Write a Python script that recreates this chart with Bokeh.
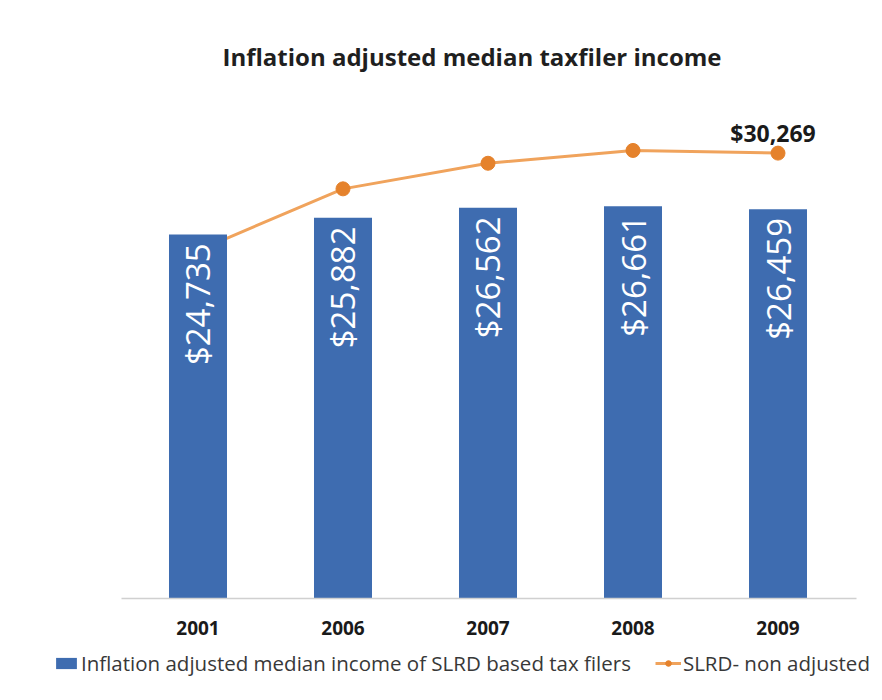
import math
from bokeh.plotting import figure
from bokeh.models import ColumnDataSource, Legend, LegendItem, Range1d, FixedTicker
from bokeh.core.properties import value
from bokeh.embed import file_html
from bokeh.resources import INLINE

years = ["2001", "2006", "2007", "2008", "2009"]
adjusted = [24735, 25882, 26562, 26661, 26459]
non_adjusted = [23650, 27840, 29580, 30450, 30269]
adjusted_labels = ["$24,735", "$25,882", "$26,562", "$26,661", "$26,459"]
last_label = "$30,269"

BAR = "#3E6CB0"
LINE = "#F0A35C"
MARK = "#E5822C"

pos = list(range(len(years)))

p = figure(x_range=Range1d(-1.0862, 4.6931), y_range=Range1d(-6796, 35000),
           width=880, height=698,
           min_border_left=40, min_border_right=2, min_border_top=83, min_border_bottom=0,
           output_backend="svg", toolbar_location=None,
           title="Inflation adjusted median taxfiler income")

p.title.align = "left"
p.title.offset = 182
p.title.text_font = "Open Sans"
p.title.text_font_style = "bold"
p.title.text_font_size = "24px"
p.title.text_color = "#1F1F1F"
p.title.standoff = 21

src = ColumnDataSource(dict(x=pos, adj=adjusted, non=non_adjusted, lab=adjusted_labels,
                            ly=[v - 600 for v in adjusted]))

line_r = p.line(x="x", y="non", source=src, line_color=LINE, line_width=3)
mark_r = p.scatter(x="x", y="non", source=src, size=14, fill_color=MARK, line_color=MARK)
bar_r = p.vbar(x="x", top="adj", width=0.4, source=src, fill_color=BAR, line_color=None)

p.text(x="x", y="ly", text="lab", source=src, angle=math.pi / 2,
       text_align="right", text_baseline="middle", text_color="white",
       text_font=value("Open Sans"), text_font_size="33px")

last = ColumnDataSource(dict(x=[pos[-1]], y=[non_adjusted[-1]], t=[last_label]))
p.text(x="x", y="y", text="t", source=last, text_align="center", text_baseline="alphabetic",
       x_offset=-5, y_offset=-20, text_color="#1A1A1A", text_font=value("Open Sans"),
       text_font_style="bold", text_font_size="23px")

p.yaxis.visible = False
p.xgrid.visible = False
p.ygrid.visible = False
p.outline_line_color = None

xa = p.xaxis[0]
xa.fixed_location = 0
xa.bounds = (-0.53, 4.54)
xa.ticker = FixedTicker(ticks=pos)
xa.major_label_overrides = {i: y for i, y in zip(pos, years)}
xa.axis_line_color = "#D0D0D0"
xa.axis_line_width = 1.5
xa.major_tick_line_color = None
xa.minor_tick_line_color = None
xa.major_label_text_font = "Open Sans"
xa.major_label_text_font_style = "bold"
xa.major_label_text_font_size = "19px"
xa.major_label_text_color = "#1A1A1A"
xa.major_label_standoff = 16

legend = Legend(items=[
    LegendItem(label="Inflation adjusted median income of SLRD based tax filers", renderers=[bar_r]),
    LegendItem(label="SLRD- non adjusted", renderers=[line_r, mark_r]),
], orientation="horizontal", location=(13, 21),
    label_text_font="Open Sans", label_text_font_size="20.5px", label_text_color="#383838",
    border_line_color=None, background_fill_alpha=0, spacing=24,
    glyph_width=26, glyph_height=14, label_standoff=2, padding=3, margin=0)
p.add_layout(legend, "center")

open("out.html", "w").write(file_html(p, INLINE))
